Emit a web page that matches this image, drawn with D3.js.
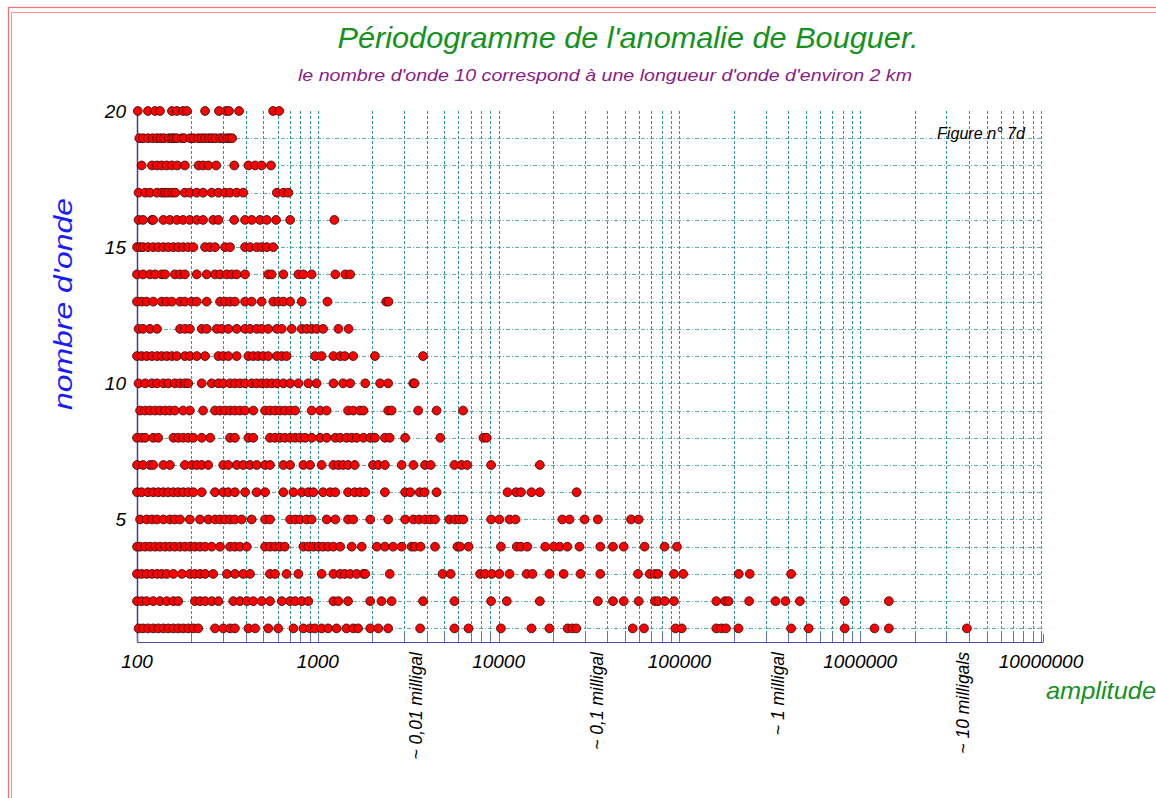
<!DOCTYPE html>
<html>
<head>
<meta charset="utf-8">
<script src="https://cdn.jsdelivr.net/npm/d3@7"></script>
<style>
body { margin: 0; background: #fff; }
svg text { font-family: "Liberation Sans", Arial, sans-serif; font-style: italic; }
</style>
</head>
<body>
<svg id="perio" width="1156" height="798"></svg>
<script>
// amplitudes, one list per wave number
var row1 = [102, 108, 115, 123, 131, 140, 149, 159, 169, 180, 192, 205, 218, 270, 300, 327, 348, 413, 450, 532, 604, 733, 832, 906, 965, 1050, 1140, 1270, 1440, 1570, 1670, 1950, 2160, 2450, 3680, 5700, 6820, 10300, 15200, 19100, 24100, 25600, 26900, 55200, 63700, 95200, 103000, 160000, 171000, 181000, 212000, 415000, 519000, 822000, 1200000, 1440000, 3890000];
var row2 = [100, 106, 113, 123, 134, 146, 159, 169, 209, 223, 238, 259, 282, 341, 371, 405, 440, 489, 544, 632, 703, 750, 815, 886, 1220, 1300, 1470, 1950, 2250, 2560, 3820, 5700, 9090, 11100, 16900, 35400, 42900, 49200, 59500, 73100, 76300, 83000, 93300, 160000, 179000, 187000, 243000, 340000, 386000, 464000, 822000, 1440000];
var row3 = [100, 106, 113, 121, 129, 137, 146, 159, 177, 196, 209, 223, 238, 264, 314, 348, 387, 422, 544, 580, 672, 781, 1050, 1220, 1330, 1410, 1510, 1640, 1790, 1830, 2500, 4900, 5430, 7900, 8410, 9150, 10100, 11500, 14300, 15400, 19100, 22900, 28400, 36500, 59000, 68500, 73100, 76300, 93300, 105000, 213000, 245000, 415000];
var row4 = [100, 104, 111, 118, 126, 134, 143, 152, 162, 173, 184, 196, 209, 223, 238, 259, 288, 327, 348, 371, 405, 511, 544, 580, 617, 657, 832, 886, 946, 1010, 1070, 1140, 1220, 1330, 1540, 1750, 2120, 2350, 2610, 2910, 3300, 3440, 3700, 4450, 5920, 6130, 6820, 10300, 12600, 13300, 14400, 18100, 20200, 21800, 24000, 28000, 36500, 42900, 49200, 64200, 82800, 96900];
var row5 = [104, 113, 121, 129, 140, 152, 162, 173, 196, 223, 248, 270, 288, 307, 327, 348, 379, 431, 511, 544, 703, 750, 799, 866, 925, 1120, 1250, 1470, 1570, 1950, 2450, 3040, 3380, 3630, 3920, 4180, 4450, 5340, 5740, 6060, 6380, 9090, 10100, 11500, 12400, 22500, 24700, 29900, 35400, 54000, 59500];
var row6 = [100, 106, 115, 123, 131, 140, 149, 159, 169, 180, 192, 205, 228, 270, 300, 320, 348, 396, 459, 511, 645, 733, 815, 886, 946, 1070, 1170, 1250, 1470, 1600, 1710, 1830, 2350, 3040, 3250, 3660, 3900, 4540, 11200, 12500, 13300, 15200, 16900, 27000];
var row7 = [100, 108, 118, 123, 140, 152, 184, 201, 214, 228, 248, 300, 320, 356, 387, 422, 459, 511, 544, 645, 703, 832, 906, 1050, 1220, 1300, 1380, 1470, 1600, 2020, 2160, 2350, 2910, 3380, 3920, 4210, 5700, 6230, 6690, 9090, 16900];
var row8 = [100, 106, 111, 123, 131, 159, 169, 180, 192, 205, 228, 254, 327, 348, 413, 440, 544, 580, 617, 657, 703, 750, 799, 851, 925, 1030, 1120, 1250, 1330, 1440, 1540, 1640, 1790, 1950, 2070, 2350, 2500, 3040, 4760, 8240, 8590];
var row9 = [104, 111, 118, 126, 134, 143, 152, 162, 180, 196, 232, 270, 288, 307, 327, 348, 371, 396, 440, 511, 544, 580, 617, 657, 703, 750, 925, 1030, 1120, 1470, 1570, 1710, 1790, 2450, 2560, 3590, 4540, 6360];
var row10 = [102, 111, 121, 129, 140, 149, 162, 173, 184, 192, 228, 259, 282, 300, 327, 348, 371, 396, 431, 459, 489, 522, 556, 594, 645, 703, 781, 886, 985, 1220, 1380, 1510, 1830, 2210, 2450, 3370, 3430];
var row11 = [100, 106, 113, 121, 129, 137, 146, 156, 166, 184, 196, 214, 238, 282, 300, 320, 356, 413, 440, 468, 499, 532, 594, 632, 672, 965, 1050, 1220, 1330, 1410, 1570, 2070, 3820];
var row12 = [102, 108, 118, 129, 173, 184, 196, 228, 243, 276, 294, 320, 356, 396, 422, 459, 489, 532, 594, 632, 717, 815, 868, 925, 985, 1070, 1300, 1480];
var row13 = [100, 106, 113, 123, 137, 146, 156, 173, 184, 200, 214, 243, 288, 307, 327, 348, 396, 431, 489, 567, 604, 645, 703, 815, 1130, 2390, 2460];
var row14 = [100, 108, 118, 126, 137, 143, 162, 173, 184, 214, 243, 270, 288, 314, 334, 356, 396, 532, 556, 645, 781, 832, 925, 1250, 1420, 1510];
var row15 = [100, 104, 108, 115, 123, 131, 140, 149, 159, 169, 180, 192, 205, 238, 253, 270, 307, 327, 396, 422, 459, 489, 522, 567];
var row16 = [102, 108, 121, 123, 140, 152, 166, 180, 196, 214, 232, 264, 282, 345, 396, 431, 479, 522, 588, 703, 1235];
var row17 = [102, 111, 118, 129, 137, 143, 149, 156, 163, 184, 196, 214, 232, 259, 282, 307, 327, 356, 387, 594, 645, 687];
var row18 = [106, 121, 129, 137, 146, 156, 167, 184, 219, 232, 248, 274, 345, 413, 450, 489, 551];
var row19 = [103, 108, 115, 122, 129, 135, 141, 150, 156, 160, 166, 177, 182, 197, 205, 218, 228, 238, 250, 260, 272, 288, 300, 315, 325, 336];
var row20 = [101, 115, 126, 134, 156, 166, 180, 189, 238, 284, 310, 323, 367, 566, 612];

var rows = [row1, row2, row3, row4, row5, row6, row7, row8, row9, row10,
    row11, row12, row13, row14, row15, row16, row17, row18, row19, row20];

var xTicks = [100, 1000, 10000, 100000, 1000000, 10000000];
var yTicks = [5, 10, 15, 20];
var milligals = [
    { v: 3500, label: "~ 0,01 milligal" },
    { v: 35000, label: "~ 0,1 milligal" },
    { v: 350000, label: "~ 1 milligal" },
    { v: 3700000, label: "~ 10 milligals" }
];

var svg = d3.select("svg#perio");

var x = d3.scaleLog()
    .domain([100, 10000000])
    .range([137, 1041]);

var y = d3.scaleLinear()
    .domain([0.5, 20])
    .range([642, 111]);

// double red frame (right and bottom sides run off the page)
svg.append("rect")
    .attr("x", 8.5).attr("y", 7.5).attr("width", 1160).attr("height", 900)
    .attr("fill", "none").attr("stroke", "#ff7070").attr("stroke-width", 1.2);
svg.append("rect")
    .attr("x", 11.5).attr("y", 12.5).attr("width", 1160).attr("height", 900)
    .attr("fill", "none").attr("stroke", "#ff9090").attr("stroke-width", 1);

// log grid values 100..1e7
var gridVals = [];
for (var k = 2; k < 7; k++) {
    for (var m = 1; m < 10; m++) gridVals.push(m * Math.pow(10, k));
}
gridVals.push(10000000);

var grid = svg.append("g");

grid.selectAll(".hgrid")
    .data(d3.range(1, 20))
    .enter().append("line")
    .attr("class", "hgrid")
    .attr("x1", 137).attr("x2", 1043)
    .attr("y1", function (d) { return Math.round(y(d)) + 0.5; })
    .attr("y2", function (d) { return Math.round(y(d)) + 0.5; })
    .attr("stroke", "#5aafaf")
    .attr("stroke-dasharray", "4,2,1,2");

grid.selectAll(".vgrid")
    .data(gridVals.slice(1))
    .enter().append("line")
    .attr("class", "vgrid")
    .attr("x1", function (d) { return Math.round(x(d)) + 0.5; })
    .attr("x2", function (d) { return Math.round(x(d)) + 0.5; })
    .attr("y1", y(20)).attr("y2", 642)
    .attr("stroke", "#2f9797")
    .attr("stroke-dasharray", "3,2");

// axes
var axis = svg.append("g");
axis.append("line")
    .attr("x1", 137.5).attr("x2", 137.5).attr("y1", 110).attr("y2", 642)
    .attr("stroke", "#3a3aa8").attr("stroke-width", 1.5);
axis.append("line")
    .attr("x1", 137).attr("x2", 1043.5).attr("y1", 642.5).attr("y2", 642.5)
    .attr("stroke", "#4a4ab0").attr("stroke-width", 1.2);
axis.selectAll(".tick")
    .data(gridVals.concat([10300000]))
    .enter().append("line")
    .attr("x1", function (d) { return Math.round(x(d)) + 0.5; })
    .attr("x2", function (d) { return Math.round(x(d)) + 0.5; })
    .attr("y1", 634).attr("y2", 642)
    .attr("stroke", "#6a6ac0");

// points
var pts = [];
rows.forEach(function (r, i) {
    r.forEach(function (v) { pts.push({ n: i + 1, a: v }); });
});

svg.append("g").selectAll("circle")
    .data(pts)
    .enter().append("circle")
    .attr("cx", function (d) { return x(d.a); })
    .attr("cy", function (d) { return y(d.n); })
    .attr("r", 4.4)
    .attr("fill", "#ff0000")
    .attr("stroke", "#3a1010")
    .attr("stroke-width", 0.9);

// tick labels
svg.append("g").selectAll("text")
    .data(xTicks)
    .enter().append("text")
    .attr("x", function (d) { return x(d); })
    .attr("y", 668)
    .attr("text-anchor", "middle")
    .style("font-size", "19px")
    .text(function (d) { return d; });

svg.append("g").selectAll("text")
    .data(yTicks)
    .enter().append("text")
    .attr("x", 126)
    .attr("y", function (d) { return y(d) + 7; })
    .attr("text-anchor", "end")
    .style("font-size", "19px")
    .text(function (d) { return d; });

svg.append("g").selectAll("text")
    .data(milligals)
    .enter().append("text")
    .attr("transform", function (d) { return "translate(" + (x(d.v) + 6) + ",652) rotate(-90)"; })
    .attr("text-anchor", "end")
    .style("font-size", "17.5px")
    .text(function (d) { return d.label; });

// titles
svg.append("text")
    .attr("x", 628).attr("y", 48)
    .attr("text-anchor", "middle")
    .attr("fill", "#14921e")
    .attr("textLength", 581).attr("lengthAdjust", "spacingAndGlyphs")
    .style("font-size", "30px")
    .text("Périodogramme de l'anomalie de Bouguer.");

svg.append("text")
    .attr("x", 605).attr("y", 81)
    .attr("text-anchor", "middle")
    .attr("fill", "#8a1a8a")
    .attr("textLength", 614).attr("lengthAdjust", "spacingAndGlyphs")
    .style("font-size", "17px")
    .text("le nombre d'onde 10 correspond à une longueur d'onde d'environ 2 km");

svg.append("text")
    .attr("x", 937).attr("y", 139)
    .attr("fill", "#000")
    .attr("textLength", 88).attr("lengthAdjust", "spacingAndGlyphs")
    .style("font-size", "16px")
    .text("Figure n° 7d");

svg.append("text")
    .attr("x", 1046).attr("y", 699)
    .attr("fill", "#14921e")
    .attr("textLength", 110).attr("lengthAdjust", "spacingAndGlyphs")
    .style("font-size", "24px")
    .text("amplitude");

svg.append("text")
    .attr("transform", "translate(72,304) rotate(-90)")
    .attr("text-anchor", "middle")
    .attr("fill", "#1a1aff")
    .attr("textLength", 212).attr("lengthAdjust", "spacingAndGlyphs")
    .style("font-size", "25px")
    .text("nombre d'onde");
</script>
</body>
</html>
